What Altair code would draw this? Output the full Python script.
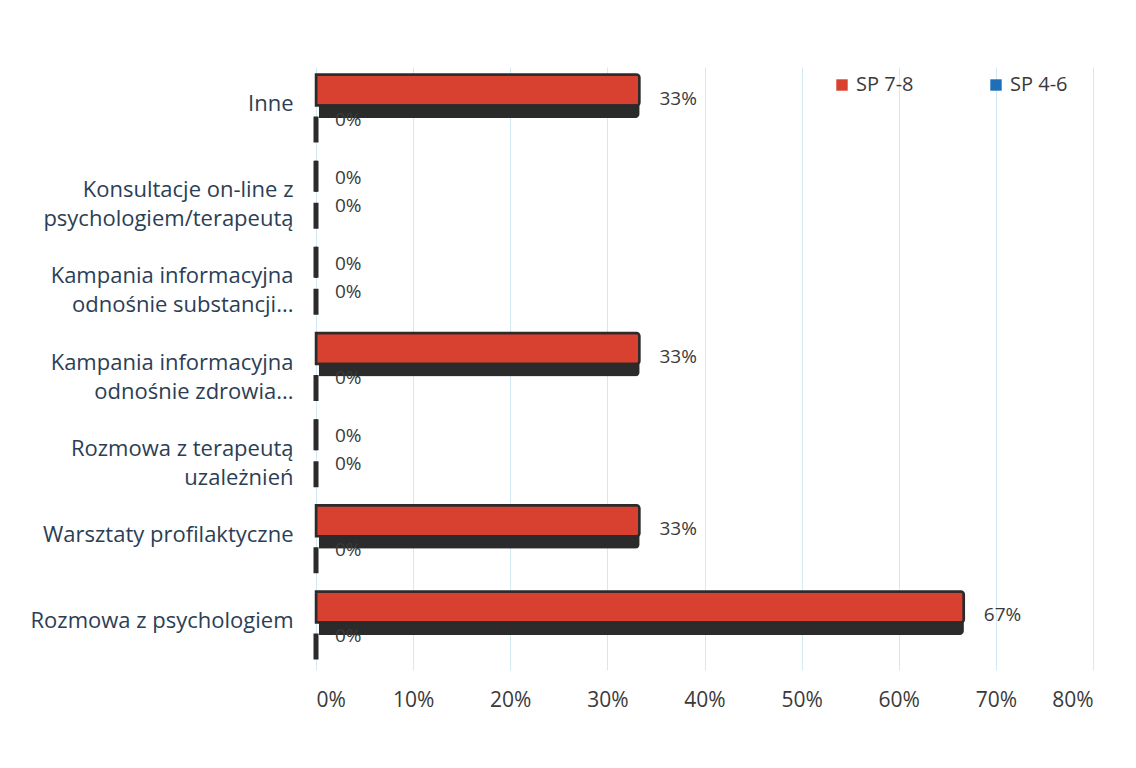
import altair as alt
import pandas as pd

categories = [
    "Inne",
    "Konsultacje on-line z|psychologiem/terapeutą",
    "Kampania informacyjna|odnośnie substancji...",
    "Kampania informacyjna|odnośnie zdrowia...",
    "Rozmowa z terapeutą|uzależnień",
    "Warsztaty profilaktyczne",
    "Rozmowa z psychologiem",
]
series_names = ["SP 7-8", "SP 4-6"]
sp78 = [0.333, 0.0, 0.0, 0.333, 0.0, 0.333, 0.667]
sp46 = [0.0, 0.0, 0.0, 0.0, 0.0, 0.0, 0.0]
x_ticks = [0, 0.1, 0.2, 0.3, 0.4, 0.5, 0.6, 0.7, 0.8]

rows = []
for c, a, b in zip(categories, sp78, sp46):
    rows.append({"category": c, "series": "SP 7-8", "value": a})
    rows.append({"category": c, "series": "SP 4-6", "value": b})
df = pd.DataFrame(rows)

RED = "#d8412f"
BLUE = "#1f6fb8"
DARK = "#2b2b2b"
FONT = "Open Sans"

y_enc = alt.Y(
    "category:N",
    sort=categories,
    scale=alt.Scale(paddingInner=0, paddingOuter=0),
    axis=alt.Axis(
        title=None,
        labelExpr="split(datum.label, '|')",
        labelFont=FONT,
        labelFontSize=22,
        labelColor="#2c3e55",
        labelLineHeight=29,
        labelPadding=23,
        labelLimit=400,
        labelOffset=-6,
        ticks=False,
        domain=False,
        grid=False,
    ),
)
x_enc = alt.X(
    "value:Q",
    scale=alt.Scale(domain=[0, 0.8]),
    axis=alt.Axis(
        title=None,
        values=x_ticks,
        format=".0%",
        labelFont=FONT,
        labelFontSize=21,
        labelColor="#3a3a3a",
        labelPadding=19,
        ticks=False,
        domain=False,
        grid=True,
        gridColor="#d3e9f2",
        gridWidth=1,
    ),
)

base = alt.Chart(df)
is_red = alt.datum.series == "SP 7-8"
is_blue = alt.datum.series == "SP 4-6"

shadow = base.transform_filter(is_red & (alt.datum.value > 0)).mark_bar(
    color=DARK, size=33, yOffset=-8.5, xOffset=3, cornerRadiusEnd=4
).encode(x=x_enc, y=y_enc)

red = base.transform_filter(is_red).mark_bar(
    size=31, yOffset=-20, stroke=DARK, strokeWidth=2.5, cornerRadiusEnd=3
).encode(
    x=x_enc,
    y=y_enc,
    color=alt.Color(
        "series:N",
        scale=alt.Scale(domain=series_names, range=[RED, BLUE]),
        legend=alt.Legend(
            title=None,
            orient="none",
            legendX=516,
            legendY=8,
            direction="horizontal",
            symbolType="square",
            symbolSize=130,
            symbolStrokeWidth=0,
            labelFont=FONT,
            labelFontSize=20,
            labelColor="#3a3a3a",
            columnPadding=72,
        ),
    ),
)

red_zero = base.transform_filter(is_red & (alt.datum.value == 0)).mark_bar(
    size=31, yOffset=-20, color=DARK, stroke=DARK, strokeWidth=5
).encode(x=x_enc, y=y_enc)

blue = base.transform_filter(is_blue).mark_bar(
    size=26, yOffset=19.5, color=DARK, stroke=DARK, strokeWidth=5
).encode(x=x_enc, y=y_enc)

red_text = base.transform_filter(is_red & (alt.datum.value > 0)).mark_text(
    align="left", baseline="middle", dx=20, yOffset=-11.5, font=FONT,
    fontSize=19, color="#3a3a3a"
).encode(x=x_enc, y=y_enc, text=alt.Text("value:Q", format=".0%"))

red_zero_text = base.transform_filter(is_red & (alt.datum.value == 0)).mark_text(
    align="left", baseline="middle", dx=19, yOffset=-18.5, font=FONT,
    fontSize=19, color="#3a3a3a"
).encode(x=x_enc, y=y_enc, text=alt.Text("value:Q", format=".0%"))

blue_text = base.transform_filter(is_blue).mark_text(
    align="left", baseline="middle", dx=19, yOffset=9.5, font=FONT,
    fontSize=19, color="#3a3a3a"
).encode(x=x_enc, y=y_enc, text=alt.Text("value:Q", format=".0%"))

chart = alt.layer(
    shadow, red, red_zero, blue, red_text, red_zero_text, blue_text
).properties(
    width=777,
    height=603,
    padding={"top": 59, "left": 22, "right": 10, "bottom": 10},
    background="white",
).configure_view(stroke=None)

chart.save("out.html", embed_options={"renderer": "svg", "actions": False})
